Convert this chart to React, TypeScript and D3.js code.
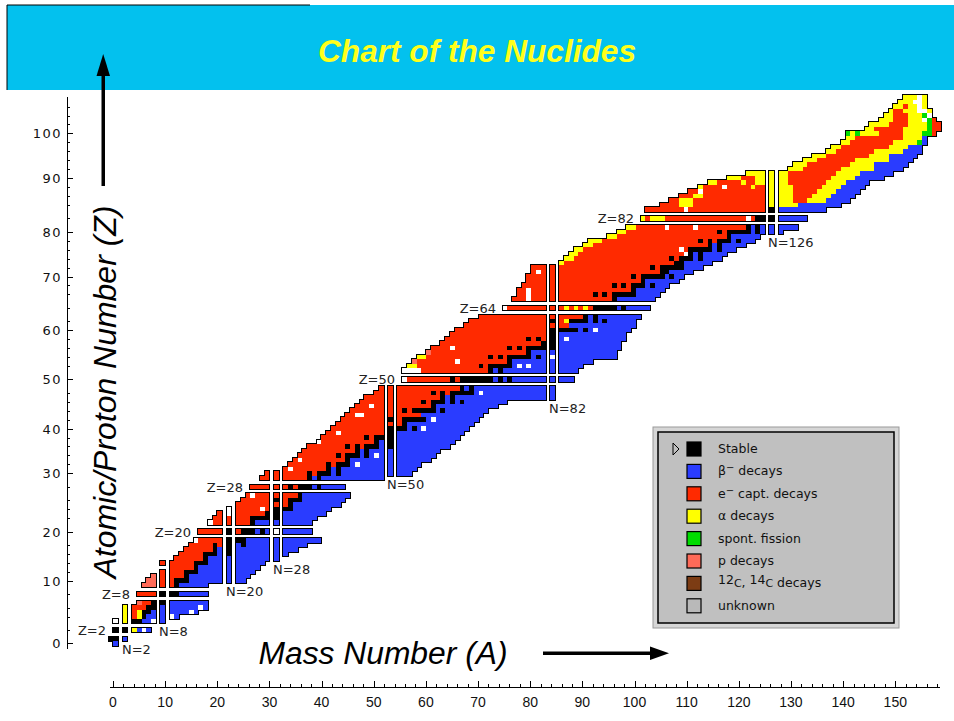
import * as d3 from "d3";

// ─── Decay modes, legend order ───────────────────────────────────────────────
const modeCodes = ["k", "b", "r", "y", "g", "p", "c", "u", "w"];
const modeColors = [
  "#000000", "#2a3cff", "#ff2a00", "#ffff00", "#00dc00",
  "#ff6a58", "#7c3c14", "#b9b9b9", "#ffffff",
];

// shell closures, drawn as separated strips
const magicN = [2, 8, 20, 28, 50, 82, 126];
const magicZ = [2, 8, 20, 28, 50, 64, 82];

const zTicks = [0, 10, 20, 30, 40, 50, 60, 70, 80, 90, 100];
const aTicks = [0, 10, 20, 30, 40, 50, 60, 70, 80, 90, 100, 110, 120, 130, 140, 150];

// first neutron number of each row (index = Z)
const firstN = [
  1, 0, 1, 1, 2, 2, 2, 4, 4, 5,
  6, 7, 8, 9, 8, 10, 11, 12, 13, 14,
  15, 17, 18, 19, 20, 21, 22, 23, 24, 26,
  27, 29, 30, 31, 32, 33, 34, 36, 37, 38,
  39, 40, 41, 42, 43, 44, 45, 46, 48, 49,
  52, 52, 53, 54, 55, 57, 58, 60, 61, 62,
  63, 65, 66, 68, 73, 75, 76, 76, 77, 78,
  78, 79, 79, 83, 84, 85, 86, 88, 89, 93,
  95, 97, 100, 101, 104, 106, 108, 110, 112, 114,
  118, 122, 129, 130, 132, 134, 137, 138, 140, 141,
  141, 145, 146, 148, 149, 150, 151, 152, 153,
];

// decay-mode runs along each row, starting at firstN
const rowRuns = [
  "b1",
  "k2b1",
  "k2y1b1w1b1",
  "w1y1k2b2w1b1",
  "y1r1y1k1b3w1b1",
  "y1r1y1k2b6w1b1",
  "y1r3k2b7w1b1",
  "p1r2k2b8",
  "r4k3b6",
  "p3r2k1b6",
  "p2r2k3b10",
  "p1r4k1b11",
  "r4k3b10",
  "r5k1b11",
  "r6k3b10",
  "r6k1b12",
  "r5k3b1k1b9",
  "r6k1b1k1b11",
  "r5k1r1k1b1k1b11",
  "w1r5k3b14",
  "r5k1r1k3b1k1b1w1b6",
  "w1r6k1b10",
  "r6k5b7",
  "r1w1r6k2b9",
  "w1r5w1r1k3b8",
  "r9k1b10",
  "r6k1r1k3b9",
  "r1w1r7k1b10",
  "r6k1r1k3b1k1b5",
  "r8k1b1k1b13",
  "r7k1r1k3b1k1b13",
  "r1w1r7k1b1k1b14",
  "r8k1r1k3b1w1b11",
  "r1w1r9k1b15",
  "r8k1r1k3b1k1b1w1b10",
  "r11k1b1k1b13",
  "r8k1r1k1r1k3b1k1b11",
  "w1r11k1b1k1b12",
  "r9k1r1k3b13",
  "r2w1r9k1b14",
  "r11k3b1k1b1w1b9",
  "r12k1b14",
  "r9k1r1k5b1w1b9",
  "r2w2r10b13",
  "r9k1r1k5b1k1b9",
  "r3w1r10k1b13",
  "r11k1r1k3b1k1b1k1b9",
  "r14k1b1k1b20",
  "r10k1r1k1r1k5b1w1b14",
  "r15k1b1k1b16",
  "w1r9k1r1k7b1k1b1k1b11",
  "w4r14k1b1k1b14",
  "y2r13k1r1k5b1w1b1w1b9",
  "p1r8w1r10k1b15",
  "y2r13k1r1k1r1k5b1k1b1w1b12",
  "p1r20k1b16",
  "r4w1r11k1r1k1r1k5b13",
  "r21k2b13",
  "r17k1r1k1r1k1b1w1b12",
  "r20k1b14",
  "r19k5b1k1b1w1b7",
  "r20b14",
  "r16k1r1y1k4b1k1b1k1b6",
  "r20k1b1k1b9",
  "w1r10y1r1y1r1y1r1k5b1k1b5",
  "r3w1r15k1b8",
  "r2w1r11k1r1k1r1k5b5",
  "r2w1r19k1b6",
  "r17k1r1k1r1k3b1k1b3",
  "r22k1b7",
  "r20k1r1k5b1k1b2",
  "r1w1r23k2b5",
  "r23k1r1k5b4",
  "y1r23k2b6",
  "y2r20k1r1k3b1k1b4",
  "y2r22w1k1b1k1b5",
  "y2r20w1r1k5b1k1b3",
  "y2r24k1b1k1b5",
  "y3r20k1r1k1r1k3b1k1b3",
  "y2r23k1b6",
  "y2r19k1r1k5b1k1b3",
  "y2r6w1r5w1r10k1b1k1b6",
  "y1r1y3r17w1r1k3b6",
  "r8w1r16k1b10",
  "r4y3r15y5b9",
  "r2y3r15y4r3y4b5",
  "r3y2r13y4r4y4b5",
  "r2w1r13y4r5y4b5",
  "y1r4w1r5y1r2y4r6y4b5",
  "y2r5y1r2y5r8y4b5",
  "y3r3y5r9y5b6",
  "y7r10y5b7",
  "y3r8y7b6",
  "y3r9y5b7",
  "y3r8y7b5",
  "y3r9y4b6",
  "y2r8y6b4",
  "y2r10y4b3",
  "y2r9y5g1b1",
  "y2r10y4b1",
  "g1y1g1y4r5y4g2r1",
  "y2r6y5g1r2",
  "y4r4y4g1r2",
  "y3r3y3w1g1r1",
  "y2r3y3g1w1",
  "y1r2y3w2y1",
  "y2r1y2w1y1",
  "y3w2y1",
  "y3w1y1",
];

const legendCodes = ["k", "b", "r", "y", "g", "p", "c", "u"];

const W = 954;
const H = 721;

export default function App() {
  // ── Cell geometry ──────────────────────────────────────────────────────
  const cw = 4.78;
  const ch = 4.47;
  const gap = 4.5;
  const nScale = d3.scaleLinear().domain([0, 160]).range([111, 111 + 160 * cw]);
  const zScale = d3.scaleLinear().domain([0, 110]).range([643.4, 643.4 - 110 * ch]);
  const shift = (v: number, magic: number[]) =>
    magic.reduce((s, m) => s + (v >= m ? 1 : 0) + (v > m ? 1 : 0), 0) * gap;
  const cx = (n: number) => nScale(n) + shift(n, magicN);
  const cy = (z: number) => zScale(z) - shift(z, magicZ);
  const color = d3.scaleOrdinal<string, string>().domain(modeCodes).range(modeColors);

  const cells: { z: number; n: number; code: string; x: number; y: number; w: number; h: number }[] = [];
  rowRuns.forEach((runs, z) => {
    let n = firstN[z];
    for (const m of runs.matchAll(/([a-z])(\d+)/g)) {
      const count = +m[2];
      for (let i = 0; i < count; i++, n++) {
        const x0 = Math.round(cx(n) - cw / 2);
        const x1 = Math.round(cx(n) + cw / 2);
        const y0 = Math.round(cy(z) - ch / 2);
        const y1 = Math.round(cy(z) + ch / 2);
        cells.push({ z, n, code: m[1], x: x0, y: y0, w: x1 - x0, h: y1 - y0 });
      }
    }
  });

  // magic labels placed next to their strips
  const zLabels = magicZ.map((z) => {
    const row = cells.filter((c) => c.z === z);
    return { text: `Z=${z}`, x: d3.min(row, (c) => c.x)! - 7, y: cy(z) + 5 };
  });
  const nLabels = magicN.map((n) => {
    const col = cells.filter((c) => c.n === n);
    return {
      text: `N=${n}`,
      x: d3.min(col, (c) => c.x)! - 1,
      y: d3.max(col, (c) => c.y + c.h)! + 13,
    };
  });

  // ── Axes ───────────────────────────────────────────────────────────────
  const aScale = d3.scaleLinear().domain([0, 158]).range([113, 937]);
  const aMinor = d3.range(0, 159, 2);
  const zMinor = d3.range(0, 108, 2);
  const axisY = 687;
  const axisX = 67;

  const tickFont = "'Liberation Sans Narrow', 'Liberation Sans', Arial, sans-serif";
  const monoFont = "'DejaVu Sans', Verdana, sans-serif";

  // ── Legend ─────────────────────────────────────────────────────────────
  const lgX = 653;
  const lgY = 427;
  const lgRow = 22.4;

  const legendText = (code: string) => {
    switch (code) {
      case "k":
        return <tspan>Stable</tspan>;
      case "b":
        return (
          <>
            <tspan>β</tspan>
            <tspan dy={-4} fontSize={10}>−</tspan>
            <tspan dy={4}> decays</tspan>
          </>
        );
      case "r":
        return (
          <>
            <tspan>e</tspan>
            <tspan dy={-4} fontSize={10}>−</tspan>
            <tspan dy={4}> capt. decays</tspan>
          </>
        );
      case "y":
        return <tspan>α decays</tspan>;
      case "g":
        return <tspan>spont. fission</tspan>;
      case "p":
        return <tspan>p decays</tspan>;
      case "c":
        return (
          <>
            <tspan dy={-3}>12</tspan>
            <tspan dy={3} fontSize={11}>C</tspan>
            <tspan>, </tspan>
            <tspan dy={-3}>14</tspan>
            <tspan dy={3} fontSize={11}>C</tspan>
            <tspan> decays</tspan>
          </>
        );
      default:
        return <tspan>unknown</tspan>;
    }
  };

  return (
    <svg
      width={W}
      height={H}
      viewBox={`0 0 ${W} ${H}`}
      style={{ position: "absolute", left: 0, top: 0, background: "#fff" }}
    >
      {/* Title bar */}
      <rect x={7} y={5} width={W - 7} height={85} fill="#03c1ee" />
      <line x1={7} y1={5} x2={310} y2={5} stroke="#000" strokeWidth={1} />
      <line x1={7} y1={5} x2={7} y2={90} stroke="#000" strokeWidth={1} />
      <text
        x={477}
        y={62}
        textAnchor="middle"
        fill="#ffff1a"
        fontFamily="'Liberation Sans', Arial, sans-serif"
        fontStyle="italic"
        fontWeight="bold"
        fontSize={31}
        textLength={318}
        lengthAdjust="spacingAndGlyphs"
      >
        Chart of the Nuclides
      </text>

      {/* Nuclide cells: outline layer then fill layer */}
      <g shapeRendering="crispEdges">
        {cells.map((c, i) => (
          <rect key={`o${i}`} x={c.x - 1} y={c.y - 1} width={c.w + 2} height={c.h + 2} fill="#000" />
        ))}
        {cells.map((c, i) => (
          <rect key={`c${i}`} x={c.x} y={c.y} width={c.w} height={c.h} fill={color(c.code)} />
        ))}
      </g>

      {/* Magic number labels */}
      <g fontFamily={monoFont} fontSize={13} fill="#222">
        {zLabels.map((l) => (
          <text key={l.text} x={l.x} y={l.y} textAnchor="end">
            {l.text}
          </text>
        ))}
        {nLabels.map((l) => (
          <text key={l.text} x={l.x} y={l.y}>
            {l.text}
          </text>
        ))}
      </g>

      {/* Left (Z) axis */}
      <g shapeRendering="crispEdges">
        <line x1={axisX} y1={97} x2={axisX} y2={649} stroke="#000" />
        {zMinor.map((z) => (
          <line
            key={z}
            x1={axisX}
            y1={Math.round(cy(z))}
            x2={axisX + (z % 10 === 0 ? 6 : 3)}
            y2={Math.round(cy(z))}
            stroke="#000"
          />
        ))}
      </g>
      <g fontFamily={monoFont} fontSize={13} fill="#111" textAnchor="end" letterSpacing={1.5}>
        {zTicks.map((z) => (
          <text key={z} x={axisX - 5} y={cy(z) + 5}>
            {z}
          </text>
        ))}
      </g>

      {/* Bottom (A) axis */}
      <g shapeRendering="crispEdges">
        <line x1={110} y1={axisY} x2={940} y2={axisY} stroke="#000" />
        {aMinor.map((a) => (
          <line
            key={a}
            x1={Math.round(aScale(a))}
            y1={axisY}
            x2={Math.round(aScale(a))}
            y2={axisY - (a % 10 === 0 ? 6 : 3)}
            stroke="#000"
          />
        ))}
      </g>
      <g fontFamily={tickFont} fontSize={14} fill="#111" textAnchor="middle">
        {aTicks.map((a) => (
          <text key={a} x={aScale(a)} y={707}>
            {a}
          </text>
        ))}
      </g>

      {/* Axis titles with arrows */}
      <rect x={101.5} y={72} width={3.5} height={114} fill="#000" />
      <path d="M103.2,54 L96.5,76 L110,76 Z" fill="#000" />
      <text
        transform="translate(116,392) rotate(-90)"
        textAnchor="middle"
        fontFamily="'Liberation Sans', Arial, sans-serif"
        fontStyle="italic"
        fontSize={31}
        textLength={373}
        lengthAdjust="spacingAndGlyphs"
        fill="#000"
      >
        Atomic/Proton Number (Z)
      </text>
      <text
        x={383}
        y={664}
        textAnchor="middle"
        fontFamily="'Liberation Sans', Arial, sans-serif"
        fontStyle="italic"
        fontSize={31}
        textLength={249}
        lengthAdjust="spacingAndGlyphs"
        fill="#000"
      >
        Mass Number (A)
      </text>
      <rect x={543} y={651.5} width={110} height={3.5} fill="#000" />
      <path d="M669,653.2 L650,646.5 L650,660 Z" fill="#000" />

      {/* Legend */}
      <rect x={lgX} y={lgY} width={246} height={201} fill="#d6d6d6" stroke="#9a9a9a" />
      <rect x={lgX + 5} y={lgY + 5} width={236} height={191} fill="#c0c0c0" stroke="#000" strokeWidth={1.5} />
      <path
        d={`M${lgX + 20},${lgY + 16} L${lgX + 26},${lgY + 22} L${lgX + 20},${lgY + 28} Z`}
        fill="none"
        stroke="#000"
      />
      {legendCodes.map((code, i) => (
        <g key={code} transform={`translate(${lgX + 34},${lgY + 15 + i * lgRow})`}>
          <rect x={0} y={0} width={14} height={14} fill={color(code)} stroke="#000" strokeWidth={1.2} />
          <text x={31} y={11} fontFamily={monoFont} fontSize={12.5} fill="#111">
            {legendText(code)}
          </text>
        </g>
      ))}
    </svg>
  );
}
